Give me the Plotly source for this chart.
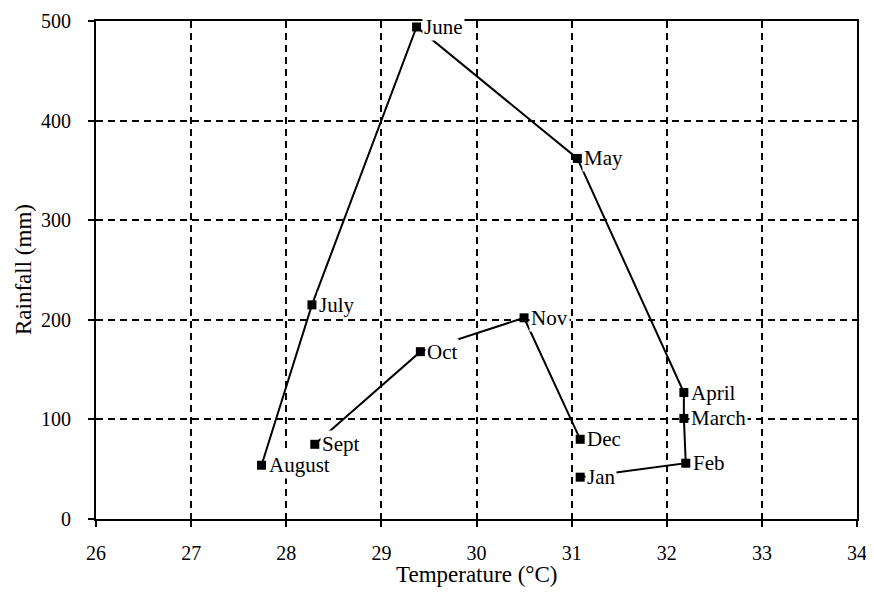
import plotly.graph_objects as go

months = ["Jan", "Feb", "March", "April", "May", "June",
          "July", "August", "Sept", "Oct", "Nov", "Dec"]
temperature = [31.09, 32.20, 32.18, 32.18, 31.06, 29.37,
               28.27, 27.74, 28.30, 29.41, 30.50, 31.09]
rainfall = [42, 56, 101, 127, 362, 494, 215, 54, 75, 168, 202, 80]

# month paths drawn as connected lines (Jan..Aug, Sept..Dec)
path_a = list(range(0, 8))
path_b = list(range(8, 12))

x_ticks = [26, 27, 28, 29, 30, 31, 32, 33, 34]
y_ticks = [0, 100, 200, 300, 400, 500]

x_title = "Temperature (°C)"
y_title = "Rainfall (mm)"

SERIF = "Liberation Serif, Times New Roman, serif"

fig = go.Figure()
for path in (path_a, path_b):
    fig.add_trace(go.Scatter(
        x=[temperature[i] for i in path],
        y=[rainfall[i] for i in path],
        mode="lines",
        line=dict(color="black", width=2),
        hoverinfo="skip",
        showlegend=False,
    ))

fig.add_trace(go.Scatter(
    x=temperature, y=rainfall, mode="markers",
    marker=dict(symbol="square", size=9, color="black"),
    showlegend=False,
))

for t, r, m in zip(temperature, rainfall, months):
    fig.add_annotation(
        x=t, y=r, text=m, showarrow=False,
        xanchor="left", yanchor="middle", xshift=5,
        bgcolor="white", borderpad=1,
        font=dict(family=SERIF, size=21, color="black"),
    )

# axis titles
fig.add_annotation(
    xref="paper", yref="paper", x=0.5, y=0, text=x_title, showarrow=False,
    xanchor="center", yanchor="middle", yshift=-55,
    font=dict(family=SERIF, size=23, color="black"),
)
fig.add_annotation(
    xref="paper", yref="paper", x=0, y=0.5, text=y_title, showarrow=False,
    xanchor="center", yanchor="middle", xshift=-73, textangle=-90,
    font=dict(family=SERIF, size=23, color="black"),
)

# page body has an 8px default margin, so the figure is sized to fit the window
fig.update_layout(
    width=866, height=594,
    margin=dict(l=88, r=17, t=13, b=83),
    paper_bgcolor="white", plot_bgcolor="white",
    font=dict(family=SERIF, color="black"),
)
fig.update_xaxes(
    range=[26, 34], tickvals=x_ticks, ticktext=[str(v) for v in x_ticks],
    showline=True, linecolor="black", linewidth=2, mirror=True,
    ticks="outside", ticklen=6, tickwidth=1.5, tickcolor="black",
    showgrid=True, gridcolor="black", gridwidth=2, griddash="7px,5px",
    zeroline=False, tickfont=dict(family=SERIF, size=20),
    ticklabelstandoff=9, automargin=False,
)
fig.update_yaxes(
    range=[0, 500], tickvals=y_ticks, ticktext=[str(v) for v in y_ticks],
    showline=True, linecolor="black", linewidth=2, mirror=True,
    ticks="outside", ticklen=6, tickwidth=1.5, tickcolor="black",
    showgrid=True, gridcolor="black", gridwidth=2, griddash="7px,5px",
    zeroline=False, tickfont=dict(family=SERIF, size=20),
    ticklabelstandoff=13, automargin=False,
)

fig.write_html("out.html")
